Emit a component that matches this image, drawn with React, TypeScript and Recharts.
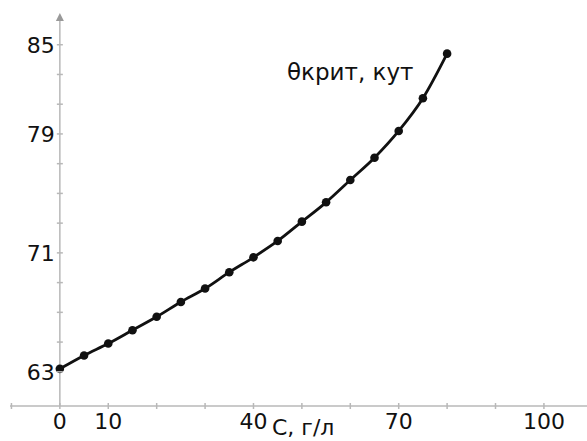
import { Line, LineChart, ReferenceDot, ReferenceLine, XAxis, YAxis } from "recharts";

// concentration C, g/l
const concentration = [0, 5, 10, 15, 20, 25, 30, 35, 40, 45, 50, 55, 60, 65, 70, 75, 80];
// critical angle, degrees
const criticalAngle = [
  63.2, 64.1, 64.9, 65.8, 66.7, 67.7, 68.6, 69.7, 70.7, 71.8, 73.1, 74.4, 75.9, 77.4, 79.2, 81.4, 84.4
];

const xTicks = [-10, 0, 10, 20, 30, 40, 50, 60, 70, 80, 90, 100];
const xLabeled = [0, 10, 40, 70, 100];
const yTicks = [63, 65, 67, 69, 71, 73, 75, 77, 79, 81, 83, 85];
const yLabeled = [63, 71, 79, 85];

const data = concentration.map((c, i) => ({ c, angle: criticalAngle[i] }));

const W = 587;
const H = 441;
const Y_AXIS_W = 2;
const MARGIN = { top: 15, right: 0, left: 8, bottom: 0 };
const X_AXIS_H = 35;
const X_DOMAIN: [number, number] = [-10.3, 108.9];
const Y_DOMAIN: [number, number] = [60.7, 87.0];

const PLOT_LEFT = MARGIN.left + Y_AXIS_W;
const PLOT_W = W - PLOT_LEFT - MARGIN.right;
const AXIS_X = PLOT_LEFT + (PLOT_W * (0 - X_DOMAIN[0])) / (X_DOMAIN[1] - X_DOMAIN[0]);
const AXIS_Y = H - MARGIN.bottom - X_AXIS_H;

const FONT = "'DejaVu Sans', Verdana, sans-serif";
const AXIS_COLOR = "#b8b8b8";
const TEXT_COLOR = "#111";

function YTick(props: any) {
  const { y, payload } = props;
  const v = payload.value;
  return (
    <g>
      <line x1={AXIS_X - 3} x2={AXIS_X + 3} y1={y} y2={y} stroke={AXIS_COLOR} strokeWidth={1.5} />
      {yLabeled.includes(v) && (
        <text x={AXIS_X - 5} y={y + 8} textAnchor="end" fontSize={22} fontFamily={FONT} fill={TEXT_COLOR}>
          {v}
        </text>
      )}
    </g>
  );
}

function XTick(props: any) {
  const { x, payload } = props;
  const v = payload.value;
  return (
    <g>
      <line x1={x} x2={x} y1={AXIS_Y - 3} y2={AXIS_Y + 3} stroke={AXIS_COLOR} strokeWidth={1.5} />
      {xLabeled.includes(v) && (
        <text x={x} y={AXIS_Y + 23} textAnchor="middle" fontSize={22} fontFamily={FONT} fill={TEXT_COLOR}>
          {v}
        </text>
      )}
    </g>
  );
}

function Arrow(props: any) {
  const { cx, cy } = props;
  return <path d={`M${cx},${cy - 2} L${cx - 4},${cy + 6} L${cx + 4},${cy + 6} Z`} fill="#999" />;
}

export default function App() {
  return (
    <div style={{ position: "absolute", left: 0, top: 0, width: W, height: H, background: "#fff" }}>
      <LineChart width={W} height={H} data={data} margin={MARGIN}>
        <XAxis
          dataKey="c"
          type="number"
          domain={X_DOMAIN}
          ticks={xTicks}
          allowDataOverflow
          height={X_AXIS_H}
          axisLine={{ stroke: AXIS_COLOR, strokeWidth: 1.5 }}
          tickLine={false}
          tickSize={0}
          tick={<XTick />}
          interval={0}
        />
        <YAxis
          type="number"
          domain={Y_DOMAIN}
          ticks={yTicks}
          allowDataOverflow
          width={Y_AXIS_W}
          axisLine={false}
          tickLine={false}
          tick={<YTick />}
          interval={0}
        />
        <ReferenceLine x={0} stroke={AXIS_COLOR} strokeWidth={1.5} />
        <ReferenceDot x={0} y={Y_DOMAIN[1]} shape={<Arrow />} ifOverflow="visible" />
        <Line
          type="monotone"
          dataKey="angle"
          stroke={TEXT_COLOR}
          strokeWidth={2.8}
          dot={{ r: 4.3, fill: TEXT_COLOR, stroke: TEXT_COLOR, strokeWidth: 0 }}
          activeDot={false}
          isAnimationActive={false}
        />
        <text x={287} y={80} fontSize={23} fontFamily={FONT} fill={TEXT_COLOR}>
          θкрит, кут
        </text>
        <text x={272} y={435} fontSize={22} fontFamily={FONT} fill={TEXT_COLOR}>
          C, г/л
        </text>
      </LineChart>
    </div>
  );
}
